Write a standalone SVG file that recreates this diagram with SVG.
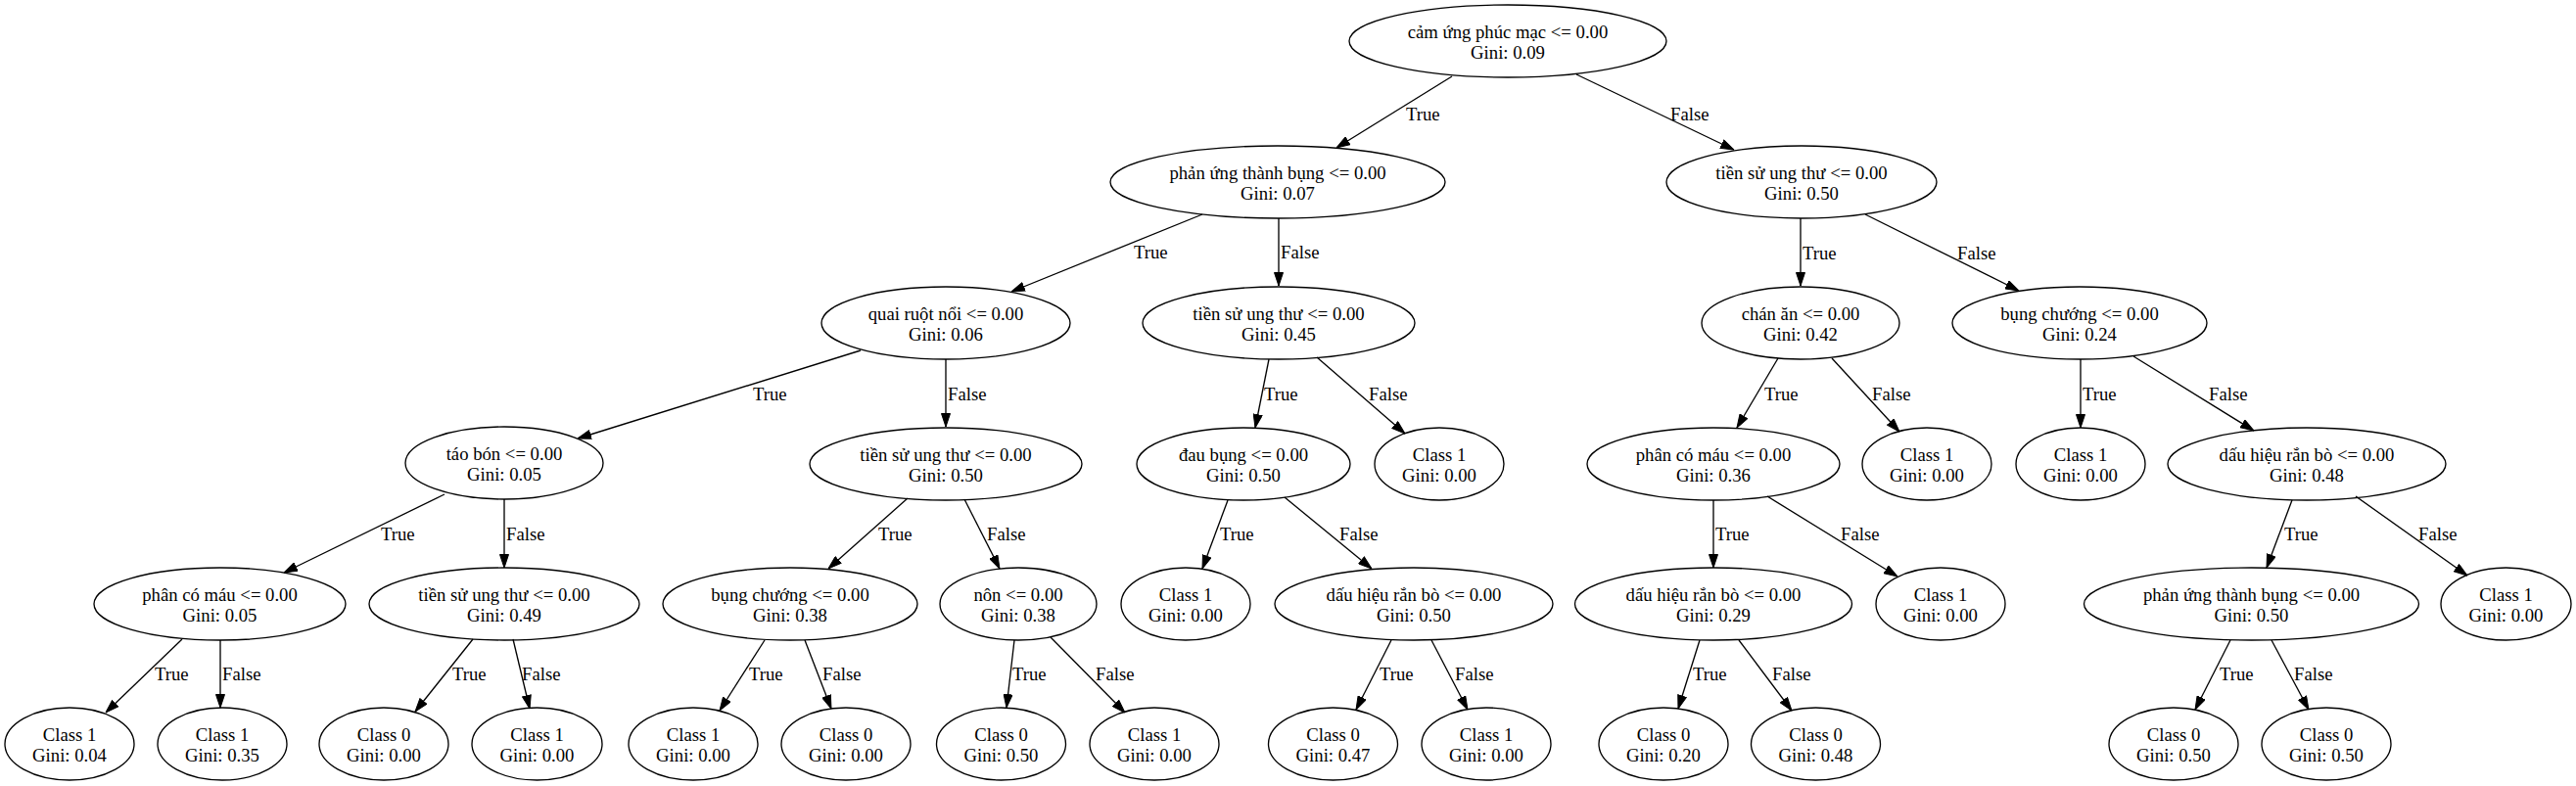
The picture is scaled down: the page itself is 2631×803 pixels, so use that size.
<svg xmlns="http://www.w3.org/2000/svg" width="2631" height="803" viewBox="0 0 2631 803">
<style>
.n ellipse{fill:none;stroke:#000;stroke-width:1.33}
.n text{font-family:"Liberation Serif","Times New Roman",serif;font-size:18.7px;fill:#000;text-anchor:middle}
.e line{stroke:#000;stroke-width:1.33;marker-end:url(#ah)}
.e text{font-family:"Liberation Serif","Times New Roman",serif;font-size:18.7px;fill:#000}
</style>
<defs>
<marker id="ah" markerUnits="userSpaceOnUse" markerWidth="14" markerHeight="10" viewBox="0 0 14 10" refX="14" refY="5" orient="auto">
<path d="M0.5,0.5 L14,5 L0.5,9.5 z" fill="#000" stroke="#000" stroke-width="1"/>
</marker>
</defs>
<rect width="2631" height="803" fill="#fff"/>
<g class="e" id="edges">
<line x1="1483" y1="78" x2="1365" y2="151"/><text x="1436" y="123">True</text>
<line x1="1610" y1="76" x2="1771" y2="153"/><text x="1706" y="123">False</text>
<line x1="1228" y1="219" x2="1033" y2="298"/><text x="1158" y="264">True</text>
<line x1="1306" y1="223" x2="1306" y2="292"/><text x="1308" y="264">False</text>
<line x1="1839" y1="223" x2="1839" y2="292"/><text x="1841" y="265">True</text>
<line x1="1905" y1="219" x2="2062" y2="297"/><text x="1999" y="265">False</text>
<line x1="879" y1="358" x2="590" y2="448"/><text x="769" y="409">True</text>
<line x1="966" y1="367" x2="966" y2="436"/><text x="968" y="409">False</text>
<line x1="1296" y1="367" x2="1282" y2="437"/><text x="1291" y="409">True</text>
<line x1="1345" y1="365" x2="1435" y2="443"/><text x="1398" y="409">False</text>
<line x1="1816" y1="366" x2="1774" y2="437"/><text x="1802" y="409">True</text>
<line x1="1871" y1="366" x2="1940" y2="441"/><text x="1912" y="409">False</text>
<line x1="2125" y1="367" x2="2125" y2="437"/><text x="2127" y="409">True</text>
<line x1="2179" y1="364" x2="2302" y2="440"/><text x="2256" y="409">False</text>
<line x1="454" y1="505" x2="290" y2="585"/><text x="389" y="552">True</text>
<line x1="515" y1="510" x2="515" y2="580"/><text x="517" y="552">False</text>
<line x1="927" y1="509" x2="846" y2="581"/><text x="897" y="552">True</text>
<line x1="985" y1="510" x2="1021" y2="581"/><text x="1008" y="552">False</text>
<line x1="1254" y1="511" x2="1228" y2="581"/><text x="1246" y="552">True</text>
<line x1="1312" y1="508" x2="1401" y2="581"/><text x="1368" y="552">False</text>
<line x1="1750" y1="511" x2="1750" y2="580"/><text x="1752" y="552">True</text>
<line x1="1805" y1="507" x2="1938" y2="589"/><text x="1880" y="552">False</text>
<line x1="2341" y1="511" x2="2315" y2="580"/><text x="2333" y="552">True</text>
<line x1="2406" y1="507" x2="2520" y2="588"/><text x="2470" y="552">False</text>
<line x1="186" y1="653" x2="108" y2="728"/><text x="158" y="695">True</text>
<line x1="225" y1="654" x2="225" y2="723"/><text x="227" y="695">False</text>
<line x1="483" y1="653" x2="424" y2="727"/><text x="462" y="695">True</text>
<line x1="524" y1="653" x2="541" y2="724"/><text x="533" y="695">False</text>
<line x1="781" y1="654" x2="735" y2="726"/><text x="765" y="695">True</text>
<line x1="822" y1="654" x2="849" y2="724"/><text x="840" y="695">False</text>
<line x1="1036" y1="654" x2="1028" y2="723"/><text x="1034" y="695">True</text>
<line x1="1073" y1="651" x2="1149" y2="728"/><text x="1119" y="695">False</text>
<line x1="1421" y1="654" x2="1385" y2="725"/><text x="1409" y="695">True</text>
<line x1="1462" y1="654" x2="1499" y2="725"/><text x="1486" y="695">False</text>
<line x1="1736" y1="654" x2="1714" y2="724"/><text x="1729" y="695">True</text>
<line x1="1776" y1="654" x2="1830" y2="726"/><text x="1810" y="695">False</text>
<line x1="2278" y1="654" x2="2242" y2="725"/><text x="2267" y="695">True</text>
<line x1="2320" y1="654" x2="2358" y2="725"/><text x="2343" y="695">False</text>
</g>
<g class="n" id="n0"><ellipse cx="1540" cy="42" rx="162" ry="37"/><text x="1540" y="38.5">cảm ứng phúc mạc &lt;= 0.00</text><text x="1540" y="60">Gini: 0.09</text></g>
<g class="n" id="n1"><ellipse cx="1305" cy="186" rx="171" ry="37"/><text x="1305" y="182.5">phản ứng thành bụng &lt;= 0.00</text><text x="1305" y="204">Gini: 0.07</text></g>
<g class="n" id="n2"><ellipse cx="1840" cy="186" rx="138" ry="37"/><text x="1840" y="182.5">tiền sử ung thư &lt;= 0.00</text><text x="1840" y="204">Gini: 0.50</text></g>
<g class="n" id="n3"><ellipse cx="966" cy="330" rx="127" ry="37"/><text x="966" y="326.5">quai ruột nổi &lt;= 0.00</text><text x="966" y="348">Gini: 0.06</text></g>
<g class="n" id="n4"><ellipse cx="1306" cy="330" rx="139" ry="37"/><text x="1306" y="326.5">tiền sử ung thư &lt;= 0.00</text><text x="1306" y="348">Gini: 0.45</text></g>
<g class="n" id="n5"><ellipse cx="1839" cy="330" rx="101" ry="37"/><text x="1839" y="326.5">chán ăn &lt;= 0.00</text><text x="1839" y="348">Gini: 0.42</text></g>
<g class="n" id="n6"><ellipse cx="2124" cy="330" rx="130" ry="37"/><text x="2124" y="326.5">bụng chướng &lt;= 0.00</text><text x="2124" y="348">Gini: 0.24</text></g>
<g class="n" id="n7"><ellipse cx="515" cy="473" rx="101" ry="37"/><text x="515" y="469.5">táo bón &lt;= 0.00</text><text x="515" y="491">Gini: 0.05</text></g>
<g class="n" id="n8"><ellipse cx="966" cy="474" rx="139" ry="37"/><text x="966" y="470.5">tiền sử ung thư &lt;= 0.00</text><text x="966" y="492">Gini: 0.50</text></g>
<g class="n" id="n9"><ellipse cx="1270" cy="474" rx="109" ry="37"/><text x="1270" y="470.5">đau bụng &lt;= 0.00</text><text x="1270" y="492">Gini: 0.50</text></g>
<g class="n" id="n10"><ellipse cx="1470" cy="474" rx="66" ry="37"/><text x="1470" y="470.5">Class 1</text><text x="1470" y="492">Gini: 0.00</text></g>
<g class="n" id="n11"><ellipse cx="1750" cy="474" rx="129" ry="37"/><text x="1750" y="470.5">phân có máu &lt;= 0.00</text><text x="1750" y="492">Gini: 0.36</text></g>
<g class="n" id="n12"><ellipse cx="1968" cy="474" rx="66" ry="37"/><text x="1968" y="470.5">Class 1</text><text x="1968" y="492">Gini: 0.00</text></g>
<g class="n" id="n13"><ellipse cx="2125" cy="474" rx="66" ry="37"/><text x="2125" y="470.5">Class 1</text><text x="2125" y="492">Gini: 0.00</text></g>
<g class="n" id="n14"><ellipse cx="2356" cy="474" rx="142" ry="37"/><text x="2356" y="470.5">dấu hiệu rắn bò &lt;= 0.00</text><text x="2356" y="492">Gini: 0.48</text></g>
<g class="n" id="n15"><ellipse cx="224.5" cy="617" rx="128.5" ry="37"/><text x="224.5" y="613.5">phân có máu &lt;= 0.00</text><text x="224.5" y="635">Gini: 0.05</text></g>
<g class="n" id="n16"><ellipse cx="515" cy="617" rx="138" ry="37"/><text x="515" y="613.5">tiền sử ung thư &lt;= 0.00</text><text x="515" y="635">Gini: 0.49</text></g>
<g class="n" id="n17"><ellipse cx="807" cy="617" rx="130" ry="37"/><text x="807" y="613.5">bụng chướng &lt;= 0.00</text><text x="807" y="635">Gini: 0.38</text></g>
<g class="n" id="n18"><ellipse cx="1040" cy="617" rx="80" ry="37"/><text x="1040" y="613.5">nôn &lt;= 0.00</text><text x="1040" y="635">Gini: 0.38</text></g>
<g class="n" id="n19"><ellipse cx="1211" cy="617" rx="66" ry="37"/><text x="1211" y="613.5">Class 1</text><text x="1211" y="635">Gini: 0.00</text></g>
<g class="n" id="n20"><ellipse cx="1444" cy="617" rx="142" ry="37"/><text x="1444" y="613.5">dấu hiệu rắn bò &lt;= 0.00</text><text x="1444" y="635">Gini: 0.50</text></g>
<g class="n" id="n21"><ellipse cx="1750" cy="617" rx="141.5" ry="37"/><text x="1750" y="613.5">dấu hiệu rắn bò &lt;= 0.00</text><text x="1750" y="635">Gini: 0.29</text></g>
<g class="n" id="n22"><ellipse cx="1982" cy="617" rx="66" ry="37"/><text x="1982" y="613.5">Class 1</text><text x="1982" y="635">Gini: 0.00</text></g>
<g class="n" id="n23"><ellipse cx="2299.5" cy="617" rx="171" ry="37"/><text x="2299.5" y="613.5">phản ứng thành bụng &lt;= 0.00</text><text x="2299.5" y="635">Gini: 0.50</text></g>
<g class="n" id="n24"><ellipse cx="2559.5" cy="617" rx="66.5" ry="37"/><text x="2559.5" y="613.5">Class 1</text><text x="2559.5" y="635">Gini: 0.00</text></g>
<g class="n" id="n25"><ellipse cx="71" cy="760" rx="66" ry="37"/><text x="71" y="756.5">Class 1</text><text x="71" y="778">Gini: 0.04</text></g>
<g class="n" id="n26"><ellipse cx="227" cy="760" rx="66" ry="37"/><text x="227" y="756.5">Class 1</text><text x="227" y="778">Gini: 0.35</text></g>
<g class="n" id="n27"><ellipse cx="392" cy="760" rx="66" ry="37"/><text x="392" y="756.5">Class 0</text><text x="392" y="778">Gini: 0.00</text></g>
<g class="n" id="n28"><ellipse cx="548.5" cy="760" rx="66.5" ry="37"/><text x="548.5" y="756.5">Class 1</text><text x="548.5" y="778">Gini: 0.00</text></g>
<g class="n" id="n29"><ellipse cx="708" cy="760" rx="66" ry="37"/><text x="708" y="756.5">Class 1</text><text x="708" y="778">Gini: 0.00</text></g>
<g class="n" id="n30"><ellipse cx="864" cy="760" rx="66" ry="37"/><text x="864" y="756.5">Class 0</text><text x="864" y="778">Gini: 0.00</text></g>
<g class="n" id="n31"><ellipse cx="1022.5" cy="760" rx="66" ry="37"/><text x="1022.5" y="756.5">Class 0</text><text x="1022.5" y="778">Gini: 0.50</text></g>
<g class="n" id="n32"><ellipse cx="1179" cy="760" rx="66" ry="37"/><text x="1179" y="756.5">Class 1</text><text x="1179" y="778">Gini: 0.00</text></g>
<g class="n" id="n33"><ellipse cx="1361.5" cy="760" rx="66" ry="37"/><text x="1361.5" y="756.5">Class 0</text><text x="1361.5" y="778">Gini: 0.47</text></g>
<g class="n" id="n34"><ellipse cx="1518" cy="760" rx="66" ry="37"/><text x="1518" y="756.5">Class 1</text><text x="1518" y="778">Gini: 0.00</text></g>
<g class="n" id="n35"><ellipse cx="1699" cy="760" rx="66" ry="37"/><text x="1699" y="756.5">Class 0</text><text x="1699" y="778">Gini: 0.20</text></g>
<g class="n" id="n36"><ellipse cx="1854.5" cy="760" rx="66" ry="37"/><text x="1854.5" y="756.5">Class 0</text><text x="1854.5" y="778">Gini: 0.48</text></g>
<g class="n" id="n37"><ellipse cx="2220" cy="760" rx="66" ry="37"/><text x="2220" y="756.5">Class 0</text><text x="2220" y="778">Gini: 0.50</text></g>
<g class="n" id="n38"><ellipse cx="2376" cy="760" rx="66" ry="37"/><text x="2376" y="756.5">Class 0</text><text x="2376" y="778">Gini: 0.50</text></g>
</svg>
